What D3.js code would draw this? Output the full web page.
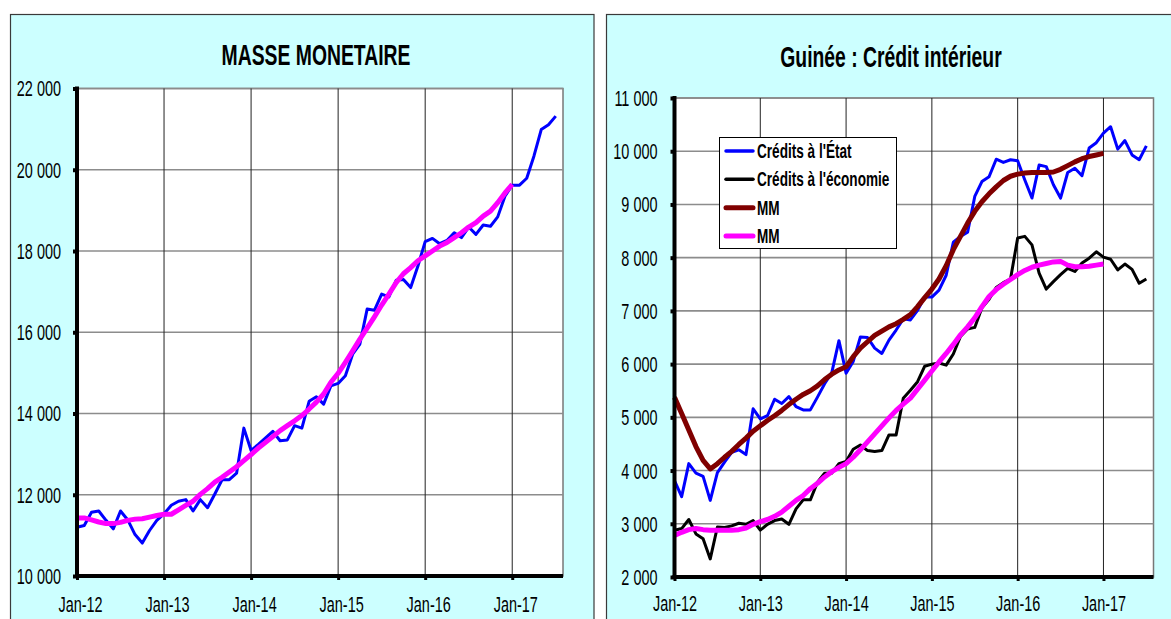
<!DOCTYPE html>
<html>
<head>
<meta charset="utf-8">
<script src="https://cdn.jsdelivr.net/npm/d3@7"></script>
<style>
  body { margin: 0; background: #fff; }
  text { font-family: Arial, "Liberation Sans", sans-serif; fill: #000; }
</style>
</head>
<body>
<svg width="1171" height="619"></svg>
<script>
// ---- data (monthly, Jan-12 = month 0) ----
var tickMonths = [0, 12, 24, 36, 48, 60];
var tickLabels = ["Jan-12", "Jan-13", "Jan-14", "Jan-15", "Jan-16", "Jan-17"];

var masseTicks = [10000, 12000, 14000, 16000, 18000, 20000, 22000];
var creditTicks = [2000, 3000, 4000, 5000, 6000, 7000, 8000, 9000, 10000, 11000];

var masseMonetaire = [11200, 11245, 11570, 11600, 11370, 11160, 11600, 11380, 11020, 10810,
  11120, 11370, 11530, 11740, 11840, 11880, 11600, 11880, 11680, 12020,
  12370, 12370, 12530, 13640, 13090, 13240, 13400, 13560, 13330, 13350,
  13700, 13640, 14300, 14410, 14230, 14680, 14740, 14930, 15460, 15710,
  16570, 16540, 16940, 16870, 17280, 17300, 17100, 17630, 18230, 18310,
  18180, 18260, 18450, 18330, 18590, 18410, 18640, 18610, 18840, 19350,
  19620, 19620, 19790, 20340, 20990, 21110, 21320];

var masseMM = [11430, 11430, 11380, 11330, 11290, 11290, 11320, 11370, 11400, 11410,
  11450, 11490, 11520, 11520, 11630, 11740, 11840, 12010, 12150, 12310,
  12430, 12560, 12690, 12840, 12990, 13150, 13290, 13430, 13580, 13700,
  13820, 13950, 14110, 14280, 14480, 14770, 14990, 15260, 15540, 15830,
  16100, 16380, 16670, 16940, 17220, 17440, 17590, 17760, 17880, 18000,
  18120, 18210, 18330, 18450, 18590, 18700, 18860, 18980, 19190, 19430,
  19640];

var creditsEtat = [3810, 3510, 4130, 3950, 3890, 3440, 3960, 4160, 4340, 4390,
  4300, 5160, 4970, 5030, 5340, 5260, 5390, 5200, 5140, 5140,
  5380, 5630, 5840, 6440, 5830, 6050, 6510, 6500, 6300, 6200,
  6450, 6640, 6850, 6830, 7010, 7260, 7260, 7390, 7670, 8290,
  8400, 8480, 9150, 9430, 9520, 9850, 9790, 9840, 9820, 9460,
  9120, 9740, 9710, 9370, 9120, 9600, 9680, 9540, 10060, 10160,
  10340, 10460, 10040, 10200, 9930, 9840, 10100];

var creditsEconomie = [2880, 2910, 3080, 2810, 2720, 2340, 2940, 2930, 2960, 3010,
  2990, 3060, 2880, 2990, 3060, 3090, 2990, 3280, 3450, 3450,
  3780, 3950, 3950, 4130, 4170, 4400, 4480, 4375, 4360, 4375,
  4670, 4670, 5360, 5510, 5670, 5960, 6000, 6020, 5980, 6190,
  6520, 6660, 6690, 7060, 7220, 7440, 7530, 7600, 8370, 8400,
  8240, 7710, 7410, 7550, 7680, 7800, 7740, 7900, 7990, 8110,
  8010, 7970, 7770, 7880, 7780, 7520, 7600];

var mmEtat = [5375, 5070, 4760, 4450, 4190, 4030, 4130, 4250, 4360, 4490,
  4610, 4740, 4840, 4940, 5030, 5130, 5240, 5340, 5430, 5500,
  5590, 5710, 5810, 5890, 5950, 6140, 6300, 6420, 6540, 6620,
  6700, 6760, 6840, 6930, 7080, 7250, 7410, 7600, 7850, 8150,
  8400, 8650, 8870, 9050, 9200, 9330, 9450, 9530, 9570, 9590,
  9600, 9600, 9600, 9610, 9660, 9730, 9800, 9860, 9900, 9930,
  9960];

var mmEconomie = [2780, 2840, 2890, 2910, 2890, 2880, 2880, 2880, 2880, 2890,
  2920, 2990, 3040, 3080, 3140, 3220, 3330, 3440, 3530, 3660,
  3760, 3880, 3980, 4060, 4130, 4250, 4390, 4540, 4690, 4840,
  4990, 5130, 5250, 5360, 5530, 5700, 5870, 6040, 6200, 6370,
  6550, 6700, 6870, 7080, 7270, 7400, 7500, 7590, 7680, 7760,
  7820, 7860, 7890, 7920, 7930, 7860, 7830, 7830, 7840, 7860,
  7880];

var legendLabels = ["Crédits à l'État", "Crédits à l'économie", "MM", "MM"];

// ---- drawing ----
var svg = d3.select("svg");
var fmt = d3.formatLocale({decimal: ",", thousands: "\u00a0", grouping: [3], currency: ["", ""]}).format(",");

function drawPanel(cfg) {
  var g = svg.append("g");

  g.append("rect")
    .attr("x", cfg.panel[0]).attr("y", cfg.panel[1])
    .attr("width", cfg.panel[2]).attr("height", cfg.panel[3])
    .attr("fill", "#ccffff").attr("stroke", "#3a3a3a").attr("stroke-width", 1.2);

  var x = d3.scaleLinear().domain([0, 67]).range([cfg.left, cfg.right]);
  var y = d3.scaleLinear().domain(cfg.domain).range([cfg.bottom, cfg.top]);

  g.append("rect")
    .attr("x", cfg.left).attr("y", cfg.top)
    .attr("width", cfg.right - cfg.left).attr("height", cfg.bottom - cfg.top)
    .attr("fill", "#fff").attr("stroke", "#777").attr("stroke-width", 1.5);

  // horizontal grid
  g.append("g").selectAll("line").data(cfg.ticks.slice(1)).enter().append("line")
    .attr("x1", cfg.left).attr("x2", cfg.right)
    .attr("y1", function(d) { return y(d); }).attr("y2", function(d) { return y(d); })
    .attr("stroke", "#8c8c8c").attr("stroke-width", 1.6);

  // vertical grid
  g.append("g").selectAll("line").data(tickMonths.slice(1)).enter().append("line")
    .attr("x1", function(d) { return x(d); }).attr("x2", function(d) { return x(d); })
    .attr("y1", cfg.top).attr("y2", cfg.bottom)
    .attr("stroke", "#222").attr("stroke-width", 1);

  // title
  g.append("text")
    .attr("transform", "translate(" + cfg.titleX + "," + cfg.titleY + ") scale(0.88,1.35)")
    .attr("text-anchor", "middle").attr("dy", "0.35em")
    .style("font-size", "22px").style("font-weight", "bold")
    .text(cfg.title);

  // series
  var line = d3.line()
    .x(function(d, i) { return x(i); })
    .y(function(d) { return y(d); });

  cfg.series.forEach(function(s) {
    g.append("path")
      .datum(s.values)
      .attr("d", line)
      .attr("fill", "none")
      .attr("stroke", s.color)
      .attr("stroke-width", s.width)
      .attr("stroke-linejoin", "round");
  });

  // axes
  var gy = g.append("g").attr("transform", "translate(" + cfg.left + ",0)")
    .call(d3.axisLeft(y).tickValues(cfg.ticks).tickFormat(fmt).tickSize(4));
  gy.select(".domain").remove();
  gy.selectAll(".tick line").attr("stroke", "#000").attr("stroke-width", 4);
  gy.selectAll(".tick text")
    .attr("x", null).attr("dy", "0.35em")
    .attr("transform", "translate(" + cfg.yLabelDx + ",0) scale(0.85,1.25)")
    .style("font-size", "17px").style("font-family", "Arial, 'Liberation Sans', sans-serif");

  var gx = g.append("g").attr("transform", "translate(0," + cfg.bottom + ")")
    .call(d3.axisBottom(x).tickValues(tickMonths)
      .tickFormat(function(d, i) { return tickLabels[i]; }).tickSize(4));
  gx.select(".domain").remove();
  gx.selectAll(".tick line").attr("stroke", "#000").attr("stroke-width", 3);
  gx.selectAll(".tick text")
    .attr("y", null).attr("dy", "0.35em")
    .attr("transform", "translate(" + cfg.xLabelDx + "," + cfg.xLabelDy + ") scale(0.85,1.25)")
    .style("font-size", "17px").style("font-family", "Arial, 'Liberation Sans', sans-serif");

  g.append("line")
    .attr("x1", cfg.left).attr("x2", cfg.left)
    .attr("y1", cfg.top - 2).attr("y2", cfg.bottom + 2)
    .attr("stroke", "#000").attr("stroke-width", 4);
  g.append("line")
    .attr("x1", cfg.left - 2).attr("x2", cfg.right)
    .attr("y1", cfg.bottom).attr("y2", cfg.bottom)
    .attr("stroke", "#000").attr("stroke-width", 4);

  return g;
}

drawPanel({
  panel: [10.5, 14.5, 583.5, 640],
  left: 77, right: 563, top: 88.5, bottom: 576,
  domain: [10000, 22000], ticks: masseTicks,
  title: "MASSE MONETAIRE", titleX: 316, titleY: 55,
  yLabelDx: -16, xLabelDx: 3, xLabelDy: 28.5,
  series: [
    {values: masseMonetaire, color: "#0000ff", width: 3},
    {values: masseMM, color: "#ff00ff", width: 5}
  ]
});

var right = drawPanel({
  panel: [606.5, 14.5, 600, 640],
  left: 674.5, right: 1153.5, top: 98, bottom: 577,
  domain: [2000, 11000], ticks: creditTicks,
  title: "Guinée : Crédit intérieur", titleX: 891, titleY: 57,
  yLabelDx: -17, xLabelDx: 0, xLabelDy: 27,
  series: [
    {values: creditsEtat, color: "#0000ff", width: 3},
    {values: creditsEconomie, color: "#000000", width: 3},
    {values: mmEtat, color: "#800000", width: 5},
    {values: mmEconomie, color: "#ff00ff", width: 5}
  ]
});

// legend
var legendColors = ["#0000ff", "#000000", "#800000", "#ff00ff"];
var legendWidths = [3.5, 3.5, 5, 5];
var legend = right.append("g");
legend.append("rect")
  .attr("x", 719.5).attr("y", 137.5).attr("width", 177).attr("height", 111)
  .attr("fill", "#fff").attr("stroke", "#000").attr("stroke-width", 1);
var rowY = d3.scalePoint().domain(d3.range(4)).range([151, 236]);
legendLabels.forEach(function(lbl, i) {
  legend.append("line")
    .attr("x1", 726).attr("x2", 753)
    .attr("y1", rowY(i)).attr("y2", rowY(i))
    .attr("stroke", legendColors[i]).attr("stroke-width", legendWidths[i])
    .attr("stroke-linecap", "round");
  legend.append("text")
    .attr("transform", "translate(757," + rowY(i) + ") scale(0.85,1.22)")
    .attr("dy", "0.35em")
    .style("font-size", "16px").style("font-weight", "bold")
    .text(lbl);
});
</script>
</body>
</html>
